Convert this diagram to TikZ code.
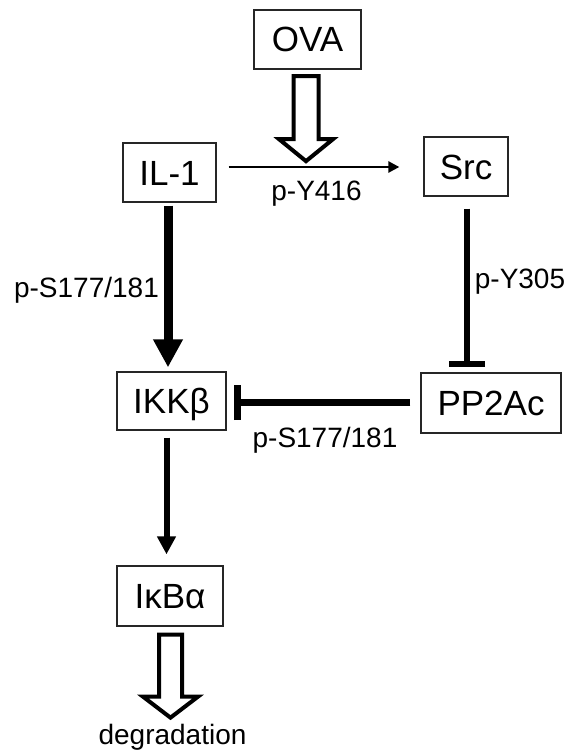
\documentclass[tikz,border=0pt]{standalone}
\usepackage{fontspec}
\setmainfont{Liberation Sans}
\usetikzlibrary{arrows.meta,calc}
\begin{document}
\begin{tikzpicture}[x=1pt,y=-1pt,
  box/.style={draw=black!85, line width=1.3pt, inner sep=0pt, minimum height=59pt,
    text height=25pt, text depth=0pt, font=\fontsize{35}{42}\selectfont},
  lbl/.style={inner sep=0pt, anchor=base, font=\fontsize{28}{34}\selectfont},
  hollow/.style={draw=black, line width=4pt, fill=white, line join=miter},
  thinarrow/.style={line width=2.5pt, -{Triangle[length=11pt,width=11pt]}},
  thickarrow/.style={line width=9pt, -{Triangle[length=28pt,width=28pt]}},
  medarrow/.style={line width=6pt, -{Triangle[length=18pt,width=18pt]}},
  inhibv/.style={line width=6.5pt, -{Bar[width=36pt]}},
  inhibh/.style={line width=7pt, -{Bar[width=35pt]}}]
\useasboundingbox (0,0) rectangle (570,752);
% boxes
\node[box, minimum width=107pt] (OVA) at (307.5,39.5) {OVA};
\node[box, minimum width=93pt] (IL1) at (169.5,172.5) {IL-1};
\node[box, minimum width=84pt] (Src) at (466,166.5) {Src};
\node[box, minimum width=109pt, minimum height=58pt] (IKK) at (171.5,401) {IKKβ};
\node[box, minimum width=140pt, minimum height=60pt] (PP2A) at (491,403) {PP2Ac};
\node[box, minimum width=106pt, minimum height=60pt] (IkB) at (170,596) {IκBα};
% labels
\node[lbl] (l1) at (316.5,200) {p-Y416};
\node[lbl] (l2) at (86.5,297) {p-S177/181};
\node[lbl] (l3) at (520,288) {p-Y305};
\node[lbl] (l4) at (325,447) {p-S177/181};
\node[lbl] (l5) at (172.5,744) {degradation};
% connectors
\draw[thinarrow] ($(IL1.east |- Src.west)+(12,0.5)$) -- ($(Src.west)+(-24,0.5)$);
\draw[thickarrow] ($(IL1.south)+(-1.5,3)$) -- ($(IL1.south |- IKK.north)+(-1.5,-4)$);
\draw[medarrow] ($(IKK.south)+(-5,7)$) -- ($(IKK.south |- IkB.north)+(-5,-11)$);
\draw[inhibv] ($(Src.south)+(1,12)$) -- ($(Src.south |- PP2A.north)+(1,-5)$);
\draw[inhibh] ($(PP2A.west)+(-10,-0.5)$) -- ($(IKK.east |- PP2A.west)+(7,-0.5)$);
% hollow arrows
\draw[hollow] ($(OVA.south)+(-14,6.5)$) -- ++(0,63) -- ++(-14.5,0) -- ++(27,22)
  -- ++(27,-22) -- ++(-14.5,0) -- ++(0,-63) -- cycle;
\draw[hollow] ($(IkB.south)+(-11,8)$) -- ++(0,62) -- ++(-16,0) -- ++(27.5,21)
  -- ++(27.5,-21) -- ++(-16,0) -- ++(0,-62) -- cycle;
\end{tikzpicture}
\end{document}
